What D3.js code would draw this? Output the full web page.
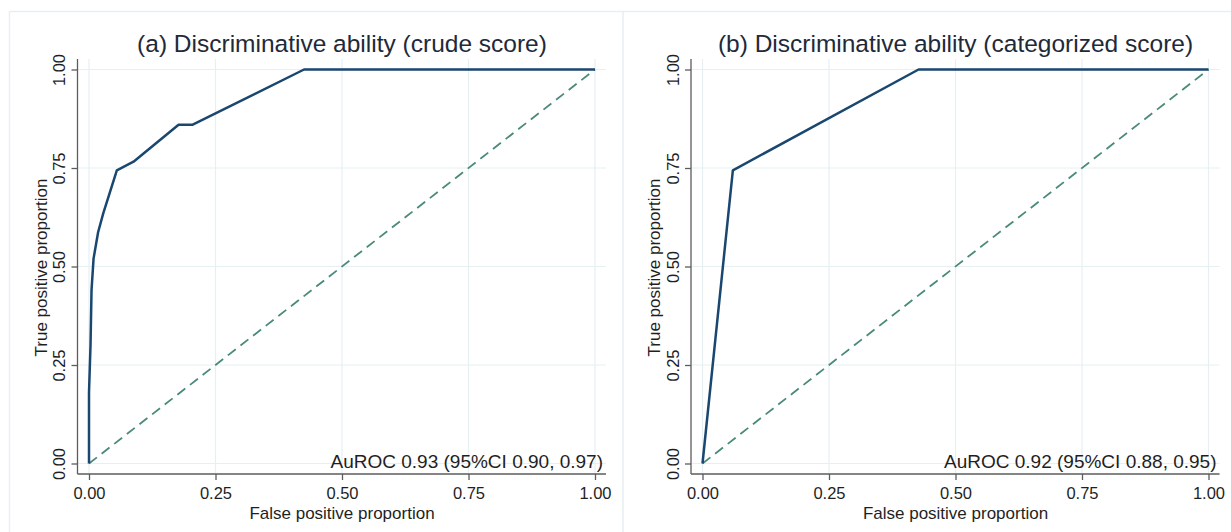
<!DOCTYPE html>
<html>
<head>
<title>ROC</title>
<style>
  body, html { margin: 0; padding: 0; background: #fff; }
  svg { display: block; font-family: "Liberation Sans", Arial, sans-serif; }
</style>
</head>
<body>
<svg id="svg" width="1231" height="532"></svg>
<script src="https://d3js.org/d3.v7.min.js"></script>
<script>
  // chart data
  const titles = ['(a) Discriminative ability (crude score)', '(b) Discriminative ability (categorized score)']
  const notes = ['AuROC 0.93 (95%CI 0.90, 0.97)', 'AuROC 0.92 (95%CI 0.88, 0.95)']
  const ticks = [0, 0.25, 0.5, 0.75, 1]
  const crudeFpr = [0, 0, 0.003, 0.005, 0.009, 0.018, 0.028, 0.055, 0.088, 0.177, 0.205, 0.425, 1]
  const crudeTpr = [0, 0.18, 0.30, 0.44, 0.52, 0.587, 0.634, 0.744, 0.766, 0.86, 0.86, 1, 1]
  const catFpr = [0, 0.06, 0.427, 1]
  const catTpr = [0, 0.744, 1, 1]

  const curves = [
    crudeFpr.map((f, i) => [f, crudeTpr[i]]),
    catFpr.map((f, i) => [f, catTpr[i]])
  ]

  const svg = d3.select('#svg')
  const panelW = 613.5
  const fmt = d3.format('.2f')
  const gridColor = '#e6eff2'
  const textColor = '#1f1f1f'

  const x = d3.scaleLinear().domain([0, 1]).range([89, 595])
  const y = d3.scaleLinear().domain([0, 1]).range([463.5, 69.5])
  const plotL = 77.5, plotR = 606, plotT = 59, plotB = 474

  // panel frames
  svg.append('rect')
    .attr('x', 9.5).attr('y', 11.5)
    .attr('width', 1240).attr('height', 540)
    .attr('fill', 'none').attr('stroke', gridColor).attr('stroke-width', 1.5)
  svg.append('line')
    .attr('x1', 623).attr('x2', 623).attr('y1', 11.5).attr('y2', 532)
    .attr('stroke', gridColor).attr('stroke-width', 1.5)

  titles.forEach((t, p) => {
    const g = svg.append('g').attr('transform', `translate(${p * panelW},0)`)

    // grid
    g.selectAll('.gx').data(ticks).join('line')
      .attr('class', 'gx')
      .attr('x1', d => x(d)).attr('x2', d => x(d))
      .attr('y1', plotT).attr('y2', plotB)
      .attr('stroke', gridColor).attr('stroke-width', 1.2)
    g.selectAll('.gy').data(ticks).join('line')
      .attr('class', 'gy')
      .attr('x1', plotL).attr('x2', plotR)
      .attr('y1', d => y(d)).attr('y2', d => y(d))
      .attr('stroke', gridColor).attr('stroke-width', 1.2)

    // axes
    const xAxis = g.append('g')
      .attr('transform', `translate(0,${plotB})`)
      .call(d3.axisBottom(x).tickValues(ticks).tickFormat(fmt).tickSize(6).tickSizeOuter(0))
    const yAxis = g.append('g')
      .attr('transform', `translate(${plotL},0)`)
      .call(d3.axisLeft(y).tickValues(ticks).tickFormat(fmt).tickSize(6).tickSizeOuter(0))

    xAxis.select('.domain').attr('d', `M${plotL},0H${plotR}`)
    yAxis.select('.domain').attr('d', `M0,${plotT}V${plotB}`)
    g.selectAll('.domain').attr('stroke', '#5c5c5c').attr('stroke-width', 1.3)
    g.selectAll('.tick line').attr('stroke', '#5c5c5c').attr('stroke-width', 1.3)
    g.selectAll('.tick text')
      .attr('fill', textColor)
      .style('font-size', '16.5px')
      .style('font-family', '"Liberation Sans", Arial, sans-serif')
    xAxis.selectAll('.tick text').attr('y', 10).attr('dy', '0.88em')
    yAxis.selectAll('.tick text')
      .attr('x', 0).attr('dy', 0)
      .attr('text-anchor', 'middle')
      .attr('transform', 'translate(-12.5,0) rotate(-90)')

    // reference diagonal
    g.append('line')
      .attr('x1', x(0)).attr('y1', y(0))
      .attr('x2', x(1)).attr('y2', y(1))
      .attr('stroke', '#4a8a7b')
      .attr('stroke-width', 1.8)
      .attr('stroke-dasharray', '10,6')

    // ROC curve
    g.append('path')
      .datum(curves[p])
      .attr('d', d3.line().x(d => x(d[0])).y(d => y(d[1])))
      .attr('fill', 'none')
      .attr('stroke', '#1a476f')
      .attr('stroke-width', 2.5)
      .attr('stroke-linejoin', 'round')

    // texts
    g.append('text')
      .attr('x', 342).attr('y', 52)
      .attr('text-anchor', 'middle')
      .attr('fill', '#1e2a3a')
      .style('font-size', '24.5px')
      .text(t)
    g.append('text')
      .attr('x', 342).attr('y', 519)
      .attr('text-anchor', 'middle')
      .attr('fill', textColor)
      .style('font-size', '17px')
      .text('False positive proportion')
    g.append('text')
      .attr('transform', `translate(46.5,${(plotT + plotB) / 2 + 1}) rotate(-90)`)
      .attr('text-anchor', 'middle')
      .attr('fill', textColor)
      .style('font-size', '17px')
      .text('True positive proportion')
    g.append('text')
      .attr('x', 603).attr('y', 468)
      .attr('text-anchor', 'end')
      .attr('fill', textColor)
      .style('font-size', '19px')
      .text(notes[p])
  })
</script>
</body>
</html>
